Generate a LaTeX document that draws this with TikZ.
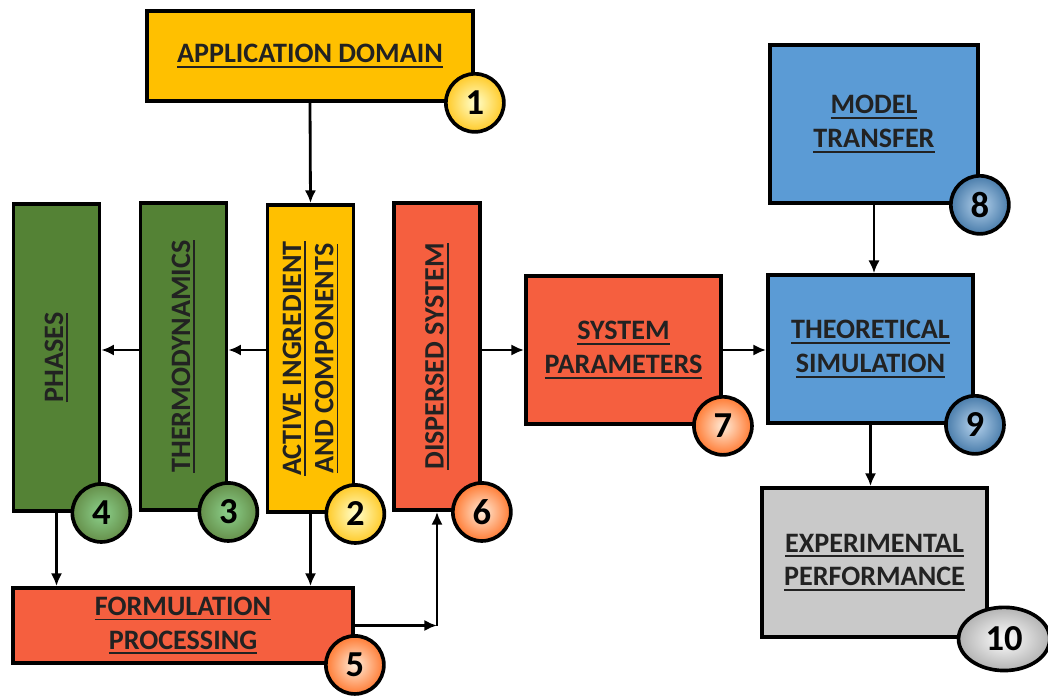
\documentclass[tikz,border=0pt]{standalone}
\usepackage{fontspec}
\setmainfont{Carlito}
\usetikzlibrary{arrows.meta,shapes.geometric}
\definecolor{dyellow}{HTML}{FFC000}
\definecolor{dgreen}{HTML}{548235}
\definecolor{dred}{HTML}{F55F3F}
\definecolor{dblue}{HTML}{5B9BD5}
\definecolor{dgray}{HTML}{C9C9C9}
\definecolor{dtext}{HTML}{222222}
\newcommand{\lbl}[1]{\setbox0\hbox{#1}\rlap{\rule[-3.6pt]{\wd0}{1.3pt}}\box0}

\begin{document}
\begin{tikzpicture}[x=0.025cm,y=-0.025cm,line width=2.6pt,
  arr/.style={-{Latex[length=9pt,width=8pt]},line width=2pt}]

    % `block' is used for every box of the chart.
    % `tall' turns the text of the upright boxes.
    % `num' and `numoval' are the numbered badges.
    \tikzstyle{block} = [draw,inner sep=2pt,align=center,text=dtext,
      font=\fontsize{20}{24}\selectfont\bfseries]
    \tikzstyle{tall} = [block,minimum width=2.15cm,minimum height=7.68cm]
    \tikzstyle{num} = [draw,circle,minimum size=1.45cm,inner sep=0pt,
      font=\fontsize{26}{26}\selectfont\bfseries]
    \tikzstyle{numoval} = [draw,ellipse,minimum width=2.28cm,minimum height=1.58cm,
      inner sep=0pt,font=\fontsize{26}{26}\selectfont\bfseries]
    \useasboundingbox (0,0) rectangle (1048,696);

    % Upper row.
    \node[block,fill=dyellow,minimum width=8.15cm,minimum height=2.25cm] (app)
      at (310,56) {\lbl{APPLICATION DOMAIN}};
    \node[block,fill=dblue,minimum width=5.2cm,minimum height=3.95cm] (model)
      at (874,124) {\lbl{MODEL}\\\lbl{TRANSFER}};

    % Upright boxes.
    \node[tall,fill=dgreen] (phases) at (56.5,357.5)
      {\rotatebox{90}{\lbl{PHASES}}};
    \node[tall,fill=dgreen] (thermo) at (183.5,356.5)
      {\rotatebox{90}{\lbl{THERMODYNAMICS}}};
    \node[tall,fill=dyellow] (active) at (310.5,358.5)
      {\rotatebox{90}{\begin{tabular}{@{}c@{}}\lbl{ACTIVE INGREDIENT}\\[-1pt]\lbl{AND COMPONENTS}\end{tabular}}};
    \node[tall,fill=dred] (disp) at (437,356.5)
      {\rotatebox{90}{\lbl{DISPERSED SYSTEM}}};

    % Middle row.
    \node[block,fill=dred,minimum width=4.88cm,minimum height=3.7cm] (sys)
      at (623.5,350) {\lbl{SYSTEM}\\\lbl{PARAMETERS}};
    \node[block,fill=dblue,minimum width=5.13cm,minimum height=3.7cm] (theo)
      at (870.5,349) {\lbl{THEORETICAL}\\\lbl{SIMULATION}};

    % Lower row.
    \node[block,fill=dred,minimum width=8.5cm,minimum height=1.88cm] (form)
      at (183,625.5) {\lbl{FORMULATION}\\\lbl{PROCESSING}};
    \node[block,fill=dgray,minimum width=5.63cm,minimum height=3.73cm] (exp)
      at (874.5,562.5) {\lbl{EXPERIMENTAL}\\\lbl{PERFORMANCE}};

    % Numbered badges.
    \node[num,inner color=yellow!20,outer color=dyellow!85] (n1) at (app.south east) {1};
    \node[num,inner color=yellow!20,outer color=dyellow!85] (n2) at (active.south east) {2};
    \node[num,inner color=green!60!black!45,outer color=dgreen!90] (n3) at (thermo.south east) {3};
    \node[num,inner color=green!60!black!45,outer color=dgreen!90] (n4) at (phases.south east) {4};
    \node[num,inner color=orange!15,outer color=orange!70!red!80] (n5) at (form.south east) {5};
    \node[num,inner color=orange!15,outer color=orange!70!red!80] (n6) at (disp.south east) {6};
    \node[num,inner color=orange!15,outer color=orange!70!red!80] (n7) at (sys.south east) {7};
    \node[num,inner color=dblue!45,outer color=dblue!80!black] (n8) at (model.south east) {8};
    \node[num,inner color=dblue!45,outer color=dblue!80!black] (n9) at (theo.south east) {9};
    \node[numoval,inner color=white,outer color=gray!60] (n10)
      at ([xshift=0.38cm]exp.south east) {10};

    % Connectors.
    \coordinate (turn) at (disp.south |- form.east);
    \draw[arr] (app.south) -- (active.north);
    \draw[arr] (active.west |- sys) -- (thermo.east |- sys);
    \draw[arr] (thermo.west |- sys) -- (phases.east |- sys);
    \draw[arr] (phases.south) -- (phases.south |- form.north);
    \draw[arr] (active.south) -- (active.south |- form.north);
    \draw[arr] (form.east) -- (turn);
    \draw[arr] (turn) -- (disp.south);
    \draw[arr] (disp.east |- sys) -- (sys.west);
    \draw[arr] (sys.east) -- (theo.west |- sys);
    \draw[arr] (model.south) -- (model.south |- theo.north);
    \draw[arr] (theo.south) -- (theo.south |- exp.north);
\end{tikzpicture}
\end{document}
